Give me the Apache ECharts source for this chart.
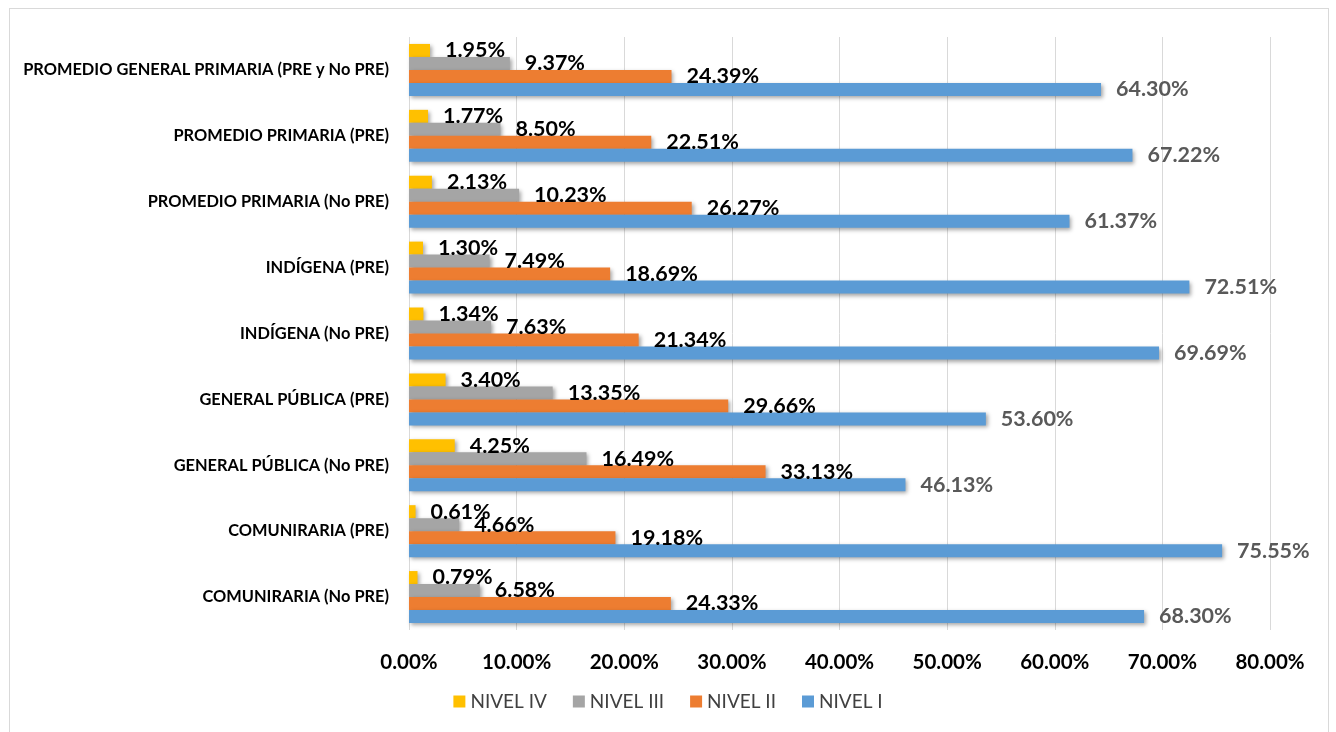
<!DOCTYPE html>
<html>
<head>
<meta charset="utf-8">
<script src="https://cdn.jsdelivr.net/npm/echarts@6/dist/echarts.min.js"></script>
<style>
  html, body { margin: 0; padding: 0; background: #fff; }
  #frame { position: absolute; left: 9px; top: 8px; width: 1320px; height: 740px; border: 1px solid #d9d9d9; box-sizing: border-box; }
  #chart { position: absolute; left: 0; top: 0; width: 1336px; height: 732px; }
</style>
</head>
<body>
<div id="frame"></div>
<div id="chart"></div>
<script>
// categories top to bottom
const categories = [
  'PROMEDIO GENERAL PRIMARIA (PRE y No PRE)',
  'PROMEDIO PRIMARIA (PRE)',
  'PROMEDIO PRIMARIA (No PRE)',
  'INDÍGENA (PRE)',
  'INDÍGENA (No PRE)',
  'GENERAL PÚBLICA (PRE)',
  'GENERAL PÚBLICA (No PRE)',
  'COMUNIRARIA (PRE)',
  'COMUNIRARIA (No PRE)'
];
const nivelIV = [1.95, 1.77, 2.13, 1.30, 1.34, 3.40, 4.25, 0.61, 0.79];
const nivelIII = [9.37, 8.50, 10.23, 7.49, 7.63, 13.35, 16.49, 4.66, 6.58];
const nivelII = [24.39, 22.51, 26.27, 18.69, 21.34, 29.66, 33.13, 19.18, 24.33];
const nivelI = [64.30, 67.22, 61.37, 72.51, 69.69, 53.60, 46.13, 75.55, 68.30];

const seriesNames = ['NIVEL IV', 'NIVEL III', 'NIVEL II', 'NIVEL I'];
const seriesData = [nivelIV, nivelIII, nivelII, nivelI];
const colors = ['#FFC000', '#A5A5A5', '#ED7D31', '#5B9BD5'];
const labelColors = ['#000', '#000', '#000', '#595959'];

const font = 'Lato, "Open Sans", sans-serif';

const chart = echarts.init(document.getElementById('chart'));

const series = seriesNames.map((name, i) => {
  return {
    name: name,
    type: 'bar',
    data: seriesData[i],
    barWidth: 13,
    barGap: '0%',
    itemStyle: {
      color: colors[i],
      shadowBlur: 4,
      shadowOffsetX: 2,
      shadowOffsetY: 2,
      shadowColor: 'rgba(0,0,0,0.35)'
    },
    label: {
      show: true,
      position: 'right',
      distance: 15,
      color: labelColors[i],
      fontFamily: font,
      fontWeight: 'bold',
      fontSize: 21.5,
      formatter: p => p.value.toFixed(2) + '%'
    }
  };
});

chart.setOption({
  backgroundColor: 'transparent',
  animation: false,
  color: colors,
  grid: {
    left: 409,
    right: 66,
    top: 37,
    bottom: 102
  },
  legend: {
    data: seriesNames,
    bottom: 16,
    left: 'center',
    itemWidth: 12,
    itemHeight: 12,
    itemGap: 26,
    icon: 'rect',
    textStyle: {
      fontFamily: font,
      fontSize: 19,
      color: '#404040'
    }
  },
  xAxis: {
    type: 'value',
    min: 0,
    max: 80,
    interval: 10,
    axisLine: { show: false },
    axisTick: { show: false },
    splitLine: { lineStyle: { color: '#d9d9d9', width: 1 } },
    axisLabel: {
      margin: 22,
      color: '#000',
      fontFamily: font,
      fontWeight: 'bold',
      fontSize: 20.5,
      formatter: v => v.toFixed(2) + '%'
    }
  },
  yAxis: {
    type: 'category',
    inverse: true,
    data: categories,
    axisLine: { show: false },
    axisTick: { show: false },
    axisLabel: {
      margin: 20,
      color: '#000',
      fontFamily: font,
      fontWeight: 'bold',
      fontSize: 16.4
    }
  },
  series: series
});
</script>
</body>
</html>
